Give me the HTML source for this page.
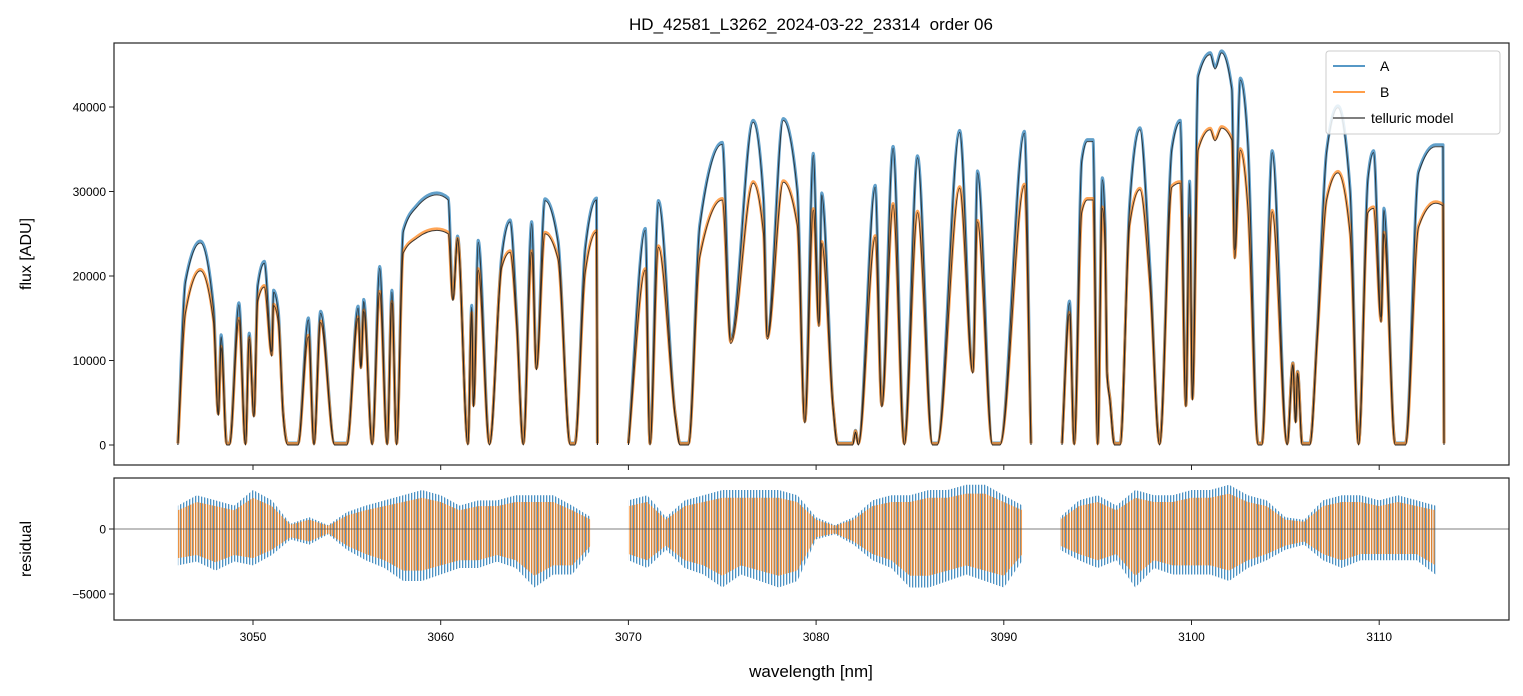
<!DOCTYPE html>
<html><head><meta charset="utf-8"><style>
body{margin:0;background:#fff;}
svg{display:block;font-family:"Liberation Sans","DejaVu Sans",sans-serif;}
</style></head><body>
<svg id="chart" width="1523" height="696" viewBox="0 0 1523 696">
<defs>
<pattern id="stripesA" width="3" height="10" patternUnits="userSpaceOnUse"><rect x="0" y="0" width="1.3" height="10" fill="#1f77b4" fill-opacity="0.8"/></pattern>
<pattern id="stripesB" width="2.4" height="10" patternUnits="userSpaceOnUse"><rect x="0.6" y="0" width="1.2" height="10" fill="#ff7f0e" fill-opacity="0.9"/></pattern>
</defs>
<text x="811" y="30" text-anchor="middle" font-size="17" fill="#000" style="white-space:pre">HD_42581_L3262_2024-03-22_23314  order 06</text>
<text transform="translate(31,254) rotate(-90)" text-anchor="middle" font-size="16">flux [ADU]</text>
<text transform="translate(31,549) rotate(-90)" text-anchor="middle" font-size="16">residual</text>
<text x="811" y="677" text-anchor="middle" font-size="17">wavelength [nm]</text>
<g id="topPanel"></g>
<g id="botPanel"></g>
<rect x="114" y="43" width="1395" height="422" fill="none" stroke="#222" stroke-width="1.2"/>
<rect x="114" y="478" width="1395" height="142" fill="none" stroke="#222" stroke-width="1.2"/>
<g>
<rect x="1326" y="51" width="174" height="83" rx="3" fill="#fff" fill-opacity="0.85" stroke="#ccc"/>
<line x1="1333" y1="66" x2="1365" y2="66" stroke="#1f77b4" stroke-width="1.5"/>
<text x="1380" y="71" font-size="14">A</text>
<line x1="1333" y1="92" x2="1365" y2="92" stroke="#ff7f0e" stroke-width="1.5"/>
<text x="1380" y="97" font-size="14">B</text>
<line x1="1333" y1="118" x2="1365" y2="118" stroke="#555" stroke-width="1.5"/>
<text x="1371" y="123" font-size="14">telluric model</text>
</g>
</svg>
<script>
const wave = [3046.0,3046.4,3047.2,3047.9,3048.15,3048.3,3048.6,3048.75,3049.25,3049.6,3049.8,3050.05,3050.25,3050.6,3051.0,3051.1,3051.35,3051.6,3051.85,3052.4,3052.95,3053.25,3053.6,3054.35,3055.0,3055.6,3055.75,3055.9,3056.35,3056.75,3057.15,3057.4,3057.65,3058.0,3058.75,3059.8,3060.4,3060.65,3060.9,3061.45,3061.65,3061.75,3062.0,3062.6,3063.25,3063.7,3064.05,3064.4,3064.85,3065.1,3065.55,3066.25,3066.9,3067.15,3067.7,3068.3,3068.35,
null,
3070.0,3070.9,3071.15,3071.6,3072.5,3072.75,3073.2,3073.8,3075.0,3075.45,3076.65,3077.2,3077.4,3078.25,3079.0,3079.4,3079.85,3080.15,3080.3,3080.9,3081.15,3081.95,3082.1,3082.25,3083.15,3083.5,3084.1,3084.7,3085.4,3086.2,3086.45,3087.65,3088.35,3088.6,3089.4,3089.8,3091.1,3091.45,
null,
3093.1,3093.5,3093.75,3094.15,3094.45,3094.75,3095.0,3095.25,3095.4,3095.5,3095.65,3095.9,3096.2,3096.7,3097.25,3097.8,3098.3,3098.95,3099.4,3099.7,3099.9,3100.05,3100.35,3101.0,3101.25,3101.6,3102.15,3102.3,3102.6,3103.0,3103.55,3103.75,3104.3,3105.1,3105.4,3105.55,3105.65,3105.9,3106.3,3106.7,3107.2,3107.8,3108.45,3108.9,3109.4,3109.7,3110.1,3110.25,3110.85,3111.4,3112.1,3113.0,3113.4,3113.45];
const modelA = [0,19200,23900,16000,3500,12800,0,0,16600,0,13000,3300,18700,21500,11000,18100,15600,3800,0,0,14800,0,15600,0,0,16200,9200,17000,0,20900,0,18100,0,25200,28200,29600,29000,17100,24500,0,16300,4500,24000,0,22200,26400,15100,0,26200,8900,28900,24000,0,0,23100,29000,0,
null,
0,25400,0,28700,3300,0,0,25800,35600,12400,38200,29000,12800,38400,30000,2600,34300,14400,29600,4500,0,0,1500,0,30500,4500,35100,0,34000,0,0,37000,8500,32200,0,0,36900,0,
null,
0,16800,0,33500,35900,35900,0,31400,25400,8500,5300,0,0,28200,37300,20300,0,34900,38200,4500,31000,5300,43500,46200,44500,46400,42000,23100,43200,35700,0,0,34600,0,9500,2600,8500,0,0,13300,34600,39900,30000,0,31400,34600,15100,27800,0,0,32200,35300,35300,0];
const modelB = [0,15600,20600,14500,3500,11500,0,0,14800,0,12500,3300,17000,18700,10500,16500,14500,3800,0,0,12800,0,14500,0,0,15000,9000,15800,0,18000,0,16800,0,22700,24500,25400,25000,17100,24300,0,15500,4500,20700,0,21000,22800,14000,0,22800,8900,25000,22000,0,0,20400,25200,0,
null,
0,20700,0,23400,3300,0,0,22200,29000,12000,31000,25000,12500,31100,26000,2600,27800,14000,23900,4500,0,0,1500,0,24600,4500,28400,0,27500,0,0,30400,8500,26400,0,0,30700,0,
null,
0,15500,0,27500,29000,29000,0,28000,23000,8500,5300,0,0,26000,30200,18500,0,30500,31000,4500,27000,5300,34900,37300,36000,37500,36100,22000,34900,28200,0,0,27600,0,9500,2600,8500,0,0,12500,29000,32200,25000,0,27500,28000,14500,25000,0,0,25800,28600,28300,0];
const resWave = [3046,3047,3048,3049,3050,3051,3052,3053,3054,3055,3056,3057,3058,3059,3060,3061,3062,3063,3064,3065,3066,3067,3068,3069,3070,3071,3072,3073,3074,3075,3076,3077,3078,3079,3080,3081,3082,3083,3084,3085,3086,3087,3088,3089,3090,3091,3092,3093,3094,3095,3096,3097,3098,3099,3100,3101,3102,3103,3104,3105,3106,3107,3108,3109,3110,3111,3112,3113];
const resPosA = [1.8,2.6,2.2,1.8,3,2.2,0.4,0.9,0.3,1.3,1.8,2.2,2.6,3,2.6,1.8,2.2,2.2,2.6,2.6,2.6,1.8,0.9,null,2.2,2.6,0.9,2.2,2.6,3,3,3,3,2.6,0.9,0.3,0.9,2.2,2.6,2.6,3,3,3.4,3.4,2.6,1.8,null,0.9,2.2,2.6,1.8,3,2.6,2.6,3,3,3.4,2.6,2.2,0.9,0.7,2.2,2.6,2.6,2.2,2.6,2.2,1.8];
const resNegA = [-2.8,-2.5,-3.2,-2.5,-2.8,-2,-0.8,-1.2,-0.4,-1.6,-2.4,-3,-4,-4,-3.5,-3,-3,-2.5,-3,-4.5,-3.5,-3.5,-1.6,null,-2.4,-3,-1.6,-3,-3.5,-4.5,-3.5,-4,-4.5,-4,-0.8,-0.4,-1.2,-2.4,-3,-4.5,-4.5,-4,-3.5,-4,-4.5,-2.4,null,-1.6,-2.4,-3,-2.4,-4.5,-3,-3.5,-3.5,-3.5,-4,-3,-2.4,-1.6,-1.2,-2.4,-3,-2.4,-2.4,-2.4,-2.4,-3.5];
const yTicks = [0,10000,20000,30000,40000];
const yTickLabels = ["0","10000","20000","30000","40000"];
const xTicks = [3050,3060,3070,3080,3090,3100,3110];
const rTicks = [0,-5000];
const rTickLabels = ["0","\u22125000"];

const NS = "http://www.w3.org/2000/svg";
const X = w => 253 + (w - 3050) * 18.77;
const Y = v => 445 - v * 0.00845;
const R = v => 529 - v * 0.013;
function mk(tag, attrs, parent) {
  const e = document.createElementNS(NS, tag);
  for (const k in attrs) e.setAttribute(k, attrs[k]);
  parent.appendChild(e);
  return e;
}
const svgEl = document.getElementById('chart');
const topG = document.getElementById('topPanel');
const botG = document.getElementById('botPanel');
const defs = svgEl.querySelector('defs');
const cp1 = mk('clipPath', {id: 'c1'}, defs); mk('rect', {x:114,y:43,width:1395,height:422}, cp1);
const cp2 = mk('clipPath', {id: 'c2'}, defs); mk('rect', {x:114,y:478,width:1395,height:142}, cp2);
topG.setAttribute('clip-path', 'url(#c1)');
botG.setAttribute('clip-path', 'url(#c2)');

// monotone cubic path for a list of [px,py] points
function monoPath(pts) {
  const n = pts.length;
  if (n < 2) return '';
  const m = [], t = [];
  for (let i = 0; i < n - 1; i++) m.push((pts[i+1][1] - pts[i][1]) / (pts[i+1][0] - pts[i][0] || 1e-6));
  for (let i = 0; i < n; i++) {
    if (i === 0) t.push(m[0]);
    else if (i === n - 1) t.push(m[n-2]);
    else if (m[i-1] * m[i] <= 0) t.push(0);
    else { const h0 = pts[i][0]-pts[i-1][0], h1 = pts[i+1][0]-pts[i][0];
      const p = (m[i-1]*h1 + m[i]*h0)/(h0+h1);
      t.push(Math.sign(m[i]) * Math.min(Math.abs(p), 2*Math.abs(m[i-1]), 2*Math.abs(m[i]))); }
  }
  let d = 'M' + pts[0][0].toFixed(1) + ',' + pts[0][1].toFixed(1);
  for (let i = 0; i < n - 1; i++) {
    const h = (pts[i+1][0] - pts[i][0]) / 3;
    d += 'C' + (pts[i][0]+h).toFixed(1) + ',' + (pts[i][1]+h*t[i]).toFixed(1) + ' ' +
         (pts[i+1][0]-h).toFixed(1) + ',' + (pts[i+1][1]-h*t[i+1]).toFixed(1) + ' ' +
         pts[i+1][0].toFixed(1) + ',' + pts[i+1][1].toFixed(1);
  }
  return d;
}
function pathFrom(xs, ys, fy) {
  let d = '', cur = [];
  for (let i = 0; i <= xs.length; i++) {
    if (i === xs.length || xs[i] === null || ys[i] === null) { d += monoPath(cur); cur = []; continue; }
    cur.push([X(xs[i]), fy(ys[i])]);
  }
  return d;
}
const la = mk('path', {d: pathFrom(wave, modelA, Y), fill: 'none', stroke: '#1f77b4', 'stroke-width': 3, 'stroke-opacity': 0.7, 'stroke-linejoin': 'round', transform: 'translate(0,-2)'}, topG);


const lb = mk('path', {d: pathFrom(wave, modelB, Y), fill: 'none', stroke: '#ff7f0e', 'stroke-width': 3, 'stroke-opacity': 0.7, 'stroke-linejoin': 'round', transform: 'translate(0,-1.5)'}, topG);


const ma = mk('path', {d: pathFrom(wave, modelA, Y), fill: 'none', stroke: '#222', 'stroke-width': 1, 'stroke-opacity': 0.85}, topG);


const mb = mk('path', {d: pathFrom(wave, modelB, Y), fill: 'none', stroke: '#222', 'stroke-width': 1, 'stroke-opacity': 0.85}, topG);



function band(pos, neg, scale, fill, name) {
  let segs = [], cur = [];
  for (let i = 0; i < resWave.length; i++) {
    if (pos[i] === null) { if (cur.length) segs.push(cur); cur = []; continue; }
    cur.push(i);
  }
  if (cur.length) segs.push(cur);
  segs.forEach(s => {
    let d = '';
    s.forEach((i, k) => { d += (k ? 'L' : 'M') + X(resWave[i]).toFixed(1) + ',' + R(pos[i] * 1000 * scale).toFixed(1); });
    for (let k = s.length - 1; k >= 0; k--) { const i = s[k]; d += 'L' + X(resWave[i]).toFixed(1) + ',' + R(neg[i] * 1000 * scale).toFixed(1); }
    const p = mk('path', {d: d + 'Z', fill: fill}, botG);
    
    
  });
}
band(resPosA, resNegA, 1, 'url(#stripesA)', 'residual-a-band');
band(resPosA, resNegA, 0.8, 'url(#stripesB)', 'residual-b-band');
const zl = mk('line', {x1:114, x2:1509, y1:R(0), y2:R(0), stroke:'#555', 'stroke-width':0.8}, botG);



yTicks.forEach((v, i) => {
  const t = mk('line', {x1:109, x2:114, y1:Y(v), y2:Y(v), stroke:'#222'}, svgEl);
  
  
  const l = mk('text', {x:106, y:Y(v)+4.5, 'text-anchor':'end', 'font-size':12}, svgEl);
  l.textContent = yTickLabels[i];
  
  
});
rTicks.forEach((v, i) => {
  const t = mk('line', {x1:109, x2:114, y1:R(v), y2:R(v), stroke:'#222'}, svgEl);
  
  
  const l = mk('text', {x:106, y:R(v)+4.5, 'text-anchor':'end', 'font-size':12}, svgEl);
  l.textContent = rTickLabels[i];
  
  
});
xTicks.forEach(v => {
  const t1 = mk('line', {x1:X(v), x2:X(v), y1:465, y2:470, stroke:'#222'}, svgEl);
  
  
  const t2 = mk('line', {x1:X(v), x2:X(v), y1:620, y2:625, stroke:'#222'}, svgEl);
  
  
  const l = mk('text', {x:X(v), y:641, 'text-anchor':'middle', 'font-size':12}, svgEl);
  l.textContent = v;
  
  
});
</script>
</body></html>
